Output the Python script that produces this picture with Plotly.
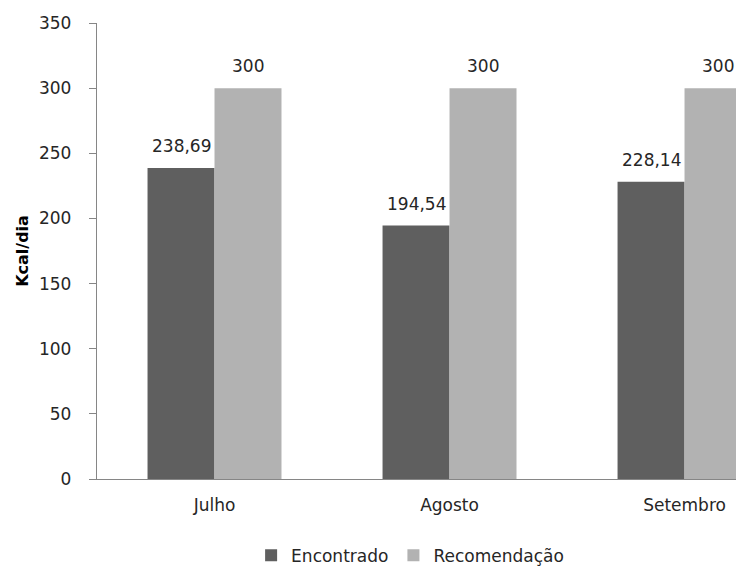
import plotly.graph_objects as go

categories = ["Julho", "Agosto", "Setembro"]
encontrado = [238.69, 194.54, 228.14]
recomendacao = [300, 300, 300]
series_names = ["Encontrado", "Recomendação"]
y_ticks = [0, 50, 100, 150, 200, 250, 300, 350]

colors = ["#5f5f5f", "#b2b2b2"]
font_family = "DejaVu Sans, sans-serif"
text_color = "#262626"
fs = 17

def fmt(v):
    s = f"{v:.2f}".rstrip("0").rstrip(".")
    return s.replace(".", ",")

fig = go.Figure()
for name, vals, col in zip(series_names, [encontrado, recomendacao], colors):
    fig.add_trace(go.Bar(
        x=categories, y=vals, name=name,
        marker=dict(color=col, line=dict(width=0)),
        hoverinfo="skip",
    ))

# value labels above bars
bar_px = 67
annotations = []
for i, vals in enumerate([encontrado, recomendacao]):
    for cat, v in zip(categories, vals):
        annotations.append(dict(
            x=cat, y=v, xref="x", yref="y", text=fmt(v), showarrow=False,
            xshift=(i - 0.5) * bar_px, yshift=10, yanchor="bottom",
            font=dict(size=fs, color=text_color, family=font_family),
        ))

fig.update_layout(
    width=736, height=573,
    margin=dict(l=97, r=0, t=23, b=94, autoexpand=False),
    paper_bgcolor="white", plot_bgcolor="white",
    barmode="group", bargap=0.43, bargroupgap=0,
    font=dict(family=font_family, size=fs, color=text_color),
    showlegend=True,
    legend=dict(orientation="h", x=0.49, xanchor="center",
                yref="container", y=0.03, yanchor="middle",
                font=dict(size=fs, color=text_color), itemwidth=30,
                traceorder="normal"),
    annotations=annotations,
)
fig.update_xaxes(
    range=[-0.5, 2.219], showline=True, linecolor="#868686", linewidth=1.3,
    ticks="", showgrid=False, tickfont=dict(size=fs, color=text_color),
    ticklabelstandoff=10, automargin=False,
)
fig.update_yaxes(
    range=[0, 350], tickvals=y_ticks, showline=True, linecolor="#868686", linewidth=1.3,
    ticks="outside", ticklen=7, tickcolor="#868686", showgrid=False, zeroline=False,
    tickfont=dict(size=fs, color=text_color), ticklabelstandoff=14, automargin=False,
    title=dict(text="<b>Kcal/dia</b>", font=dict(size=16, color="#000000",
               family=font_family), standoff=6),
)
fig.write_html("out.html")
